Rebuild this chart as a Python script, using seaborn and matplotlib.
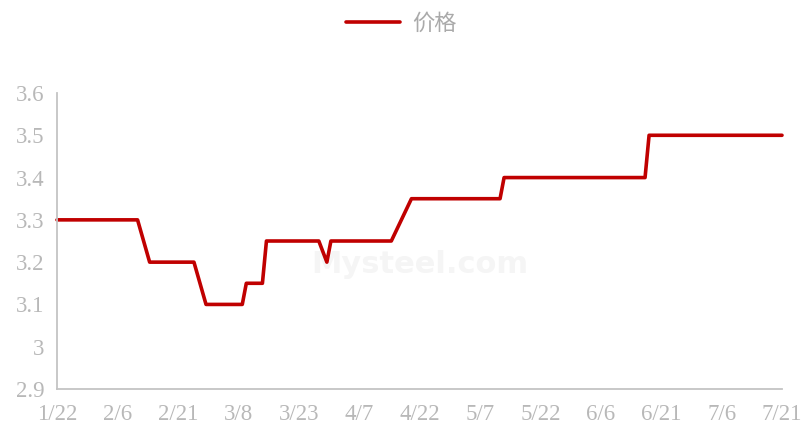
import pandas as pd
import seaborn as sns
import matplotlib.pyplot as plt

# turning points of the price line
dates = ["2023-01-22", "2023-02-11", "2023-02-14", "2023-02-25", "2023-02-28",
         "2023-03-09", "2023-03-10", "2023-03-14", "2023-03-15", "2023-03-28",
         "2023-03-30", "2023-03-31", "2023-04-15", "2023-04-20", "2023-05-12",
         "2023-05-13", "2023-06-17", "2023-06-18", "2023-07-21"]
prices = [3.3, 3.3, 3.2, 3.2, 3.1,
          3.1, 3.15, 3.15, 3.25, 3.25,
          3.2, 3.25, 3.25, 3.35, 3.35,
          3.4, 3.4, 3.5, 3.5]
y_ticks = [2.9, 3.0, 3.1, 3.2, 3.3, 3.4, 3.5, 3.6]
y_labels = ["2.9", "3", "3.1", "3.2", "3.3", "3.4", "3.5", "3.6"]

df = pd.DataFrame({"date": pd.to_datetime(dates), "价格": prices})

sns.set_style("white")
plt.rcParams['font.family'] = ['Liberation Serif', 'Noto Sans CJK SC']

grey = "#c4c4c4"
label_grey = "#b8b8b8"

fig = plt.figure(figsize=(8.03, 4.34), dpi=100)
ax = fig.add_axes([57 / 803, 1 - 389 / 434, (782 - 57) / 803, (389 - 93) / 434])

sns.lineplot(data=df, x="date", y="价格", ax=ax, color="#c00000", linewidth=2.6,
             label="价格", clip_on=False)

# faint watermark
ax.text(0.5, 0.42, "Mysteel.com", transform=ax.transAxes, ha="center", va="center",
        fontsize=22, fontweight="bold", color="#f5f5f5", family="DejaVu Sans", zorder=0)

start = pd.Timestamp("2023-01-22")
ticks = [start + pd.Timedelta(days=15 * i) for i in range(13)]
ax.set_xlim(start, pd.Timestamp("2023-07-21"))
ax.set_xticks(ticks)
ax.set_xticklabels([f"{t.month}/{t.day}" for t in ticks])
ax.set_ylim(2.9, 3.6)
ax.set_yticks(y_ticks)
ax.set_yticklabels(y_labels)

for s in ["top", "right"]:
    ax.spines[s].set_visible(False)
for s in ["left", "bottom"]:
    ax.spines[s].set_color(grey)
    ax.spines[s].set_linewidth(1.3)
ax.tick_params(axis="both", colors=grey, length=6, width=1.3, direction="out",
               labelcolor=label_grey, labelsize=16.5)
ax.tick_params(axis="x", pad=5)
ax.tick_params(axis="y", pad=3)
ax.set_xlabel("")
ax.set_ylabel("")

ax.legend_.remove()
handles, labels = ax.get_legend_handles_labels()
fig.legend(handles, labels, loc="upper center", bbox_to_anchor=(0.5, 1.02), frameon=False,
           prop={"family": "Noto Sans CJK SC", "size": 16}, labelcolor="#aaaaaa",
           handlelength=2.4, handletextpad=0.55)

fig.savefig("out.png", dpi=100)
